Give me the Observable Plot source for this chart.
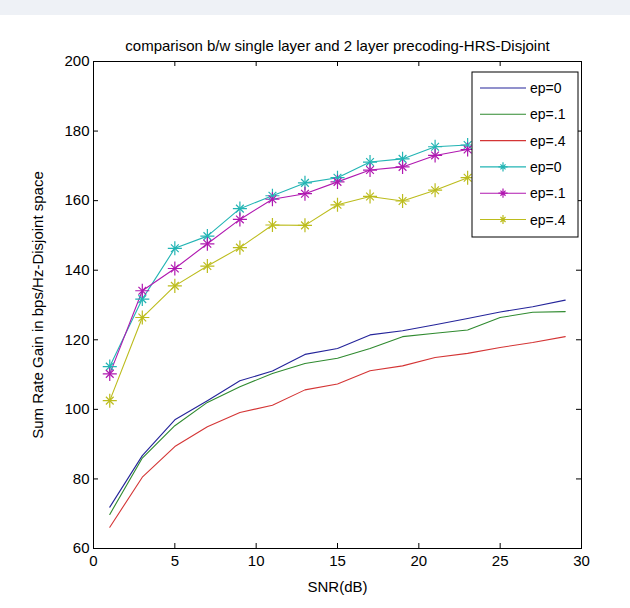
<!DOCTYPE html>
<html>
<head>
<meta charset="utf-8">
<script src="https://cdn.jsdelivr.net/npm/d3@7"></script>
<script src="https://cdn.jsdelivr.net/npm/@observablehq/plot@0.6"></script>
<style>
  html, body { margin: 0; padding: 0; background: #ffffff; }
  #chart { width: 630px; height: 608px; }
</style>
</head>
<body>
<div id="chart"></div>
<script>
// ---- data ----
const snr = [1, 3, 5, 7, 9, 11, 13, 15, 17, 19, 21, 23, 25, 27, 29];
const snrStar = [1, 3, 5, 7, 9, 11, 13, 15, 17, 19, 21, 23];
const single_ep0  = [71.9, 86.7, 97.0, 102.5, 108.2, 111.0, 115.8, 117.5, 121.4, 122.6, 124.3, 126.1, 128.0, 129.5, 131.4];
const single_ep1  = [69.8, 86.0, 95.3, 102.0, 106.5, 110.3, 113.2, 114.7, 117.5, 120.9, 121.9, 122.8, 126.4, 127.9, 128.1];
const single_ep4  = [66.1, 80.5, 89.3, 95.0, 99.1, 101.2, 105.6, 107.3, 111.1, 112.5, 114.9, 116.1, 117.8, 119.2, 120.9];
const double_ep0  = [112.3, 131.7, 146.3, 149.8, 157.7, 161.4, 165.1, 166.6, 171.1, 172.0, 175.5, 176.0];
const double_ep1  = [110.2, 134.1, 140.5, 147.6, 154.6, 160.4, 162.0, 165.4, 168.8, 169.7, 173.0, 174.7];
const double_ep4  = [102.5, 126.4, 135.5, 141.2, 146.5, 153.0, 152.9, 158.8, 161.2, 159.9, 163.0, 166.6];
const legendLabels = ["ep=0", "ep=.1", "ep=.4", "ep=0", "ep=.1", "ep=.4"];
const xTicks = [0, 5, 10, 15, 20, 25, 30];
const yTicks = [60, 80, 100, 120, 140, 160, 180, 200];
const titleText = "comparison b/w single layer and 2 layer precoding-HRS-Disjoint";
const xLabel = "SNR(dB)";
const yLabel = "Sum Rate Gain in bps/Hz-Disjoint space";

// ---- styles ----
const colors = ["#24249a", "#2f8a2f", "#d43535", "#22b4b4", "#b018b0", "#bcbc1c"];
const font = "'Liberation Sans', Arial, Helvetica, sans-serif";

const seriesDefs = [
  {x: snr, y: single_ep0, star: false},
  {x: snr, y: single_ep1, star: false},
  {x: snr, y: single_ep4, star: false},
  {x: snrStar, y: double_ep0, star: true},
  {x: snrStar, y: double_ep1, star: true},
  {x: snrStar, y: double_ep4, star: true}
];
const rows = [];
seriesDefs.forEach((s, i) => s.x.forEach((x, j) => rows.push({series: i, x, y: s.y[j], star: s.star})));

const W = 630, H = 608;
const mL = 93, mR = 49, mT = 61, mB = 60;
const innerW = W - mL - mR, innerH = H - mT - mB;

const marks = [
  Plot.frame({stroke: "#000", strokeWidth: 1}),
  // inward tick marks on all four sides
  Plot.tickX(xTicks, {x: d => d, insetTop: innerH - 5, stroke: "#000"}),
  Plot.tickX(xTicks, {x: d => d, insetBottom: innerH - 5, stroke: "#000"}),
  Plot.tickY(yTicks, {y: d => d, insetRight: innerW - 5, stroke: "#000"}),
  Plot.tickY(yTicks, {y: d => d, insetLeft: innerW - 5, stroke: "#000"}),
  Plot.axisX({ticks: xTicks, tickSize: 0, tickPadding: 7, fontSize: 15, label: null, tickFormat: d => String(d)}),
  Plot.axisY({ticks: yTicks, tickSize: 0, tickPadding: 4, fontSize: 15, label: null, tickFormat: d => String(d)}),
  ...seriesDefs.map((s, i) =>
    Plot.line(rows.filter(d => d.series === i), {x: "x", y: "y", stroke: colors[i], strokeWidth: 1.1})
  ),
  ...[3, 4, 5].map(i => Plot.dot(rows.filter(d => d.series === i), {x: "x", y: "y", symbol: "plus", r: 4.6, stroke: colors[i], strokeWidth: 1.2})),
  ...[3, 4, 5].map(i => Plot.dot(rows.filter(d => d.series === i), {x: "x", y: "y", symbol: "times", r: 3.6, stroke: colors[i], strokeWidth: 1.2})),
  Plot.text([titleText], {frameAnchor: "top", dy: -21, fontSize: 15, fill: "#000"}),
  Plot.text([xLabel], {frameAnchor: "bottom", dy: 43, fontSize: 15, fill: "#000"}),
  Plot.text([yLabel], {frameAnchor: "left", dx: -55, rotate: -90, textAnchor: "middle", fontSize: 15, fill: "#000"})
];

const chart = Plot.plot({
  width: W, height: H,
  marginLeft: mL, marginRight: mR, marginTop: mT, marginBottom: mB,
  style: {fontFamily: font, fontSize: "15px", color: "#000", background: "white"},
  x: {domain: [0, 30]},
  y: {domain: [60, 200]},
  marks
});

// ---- page border band and legend ----
const svg = d3.select(chart);
svg.insert("rect", ":first-child").attr("x", 0).attr("y", 0).attr("width", W).attr("height", 15).attr("fill", "#eef1f6");
svg.insert("rect", ":first-child").attr("x", 0).attr("y", 0).attr("width", W).attr("height", H).attr("fill", "#ffffff");

const lg = svg.append("g");
const lx = 472, ly = 72, lw = 106, lh = 165;
lg.append("rect").attr("x", lx).attr("y", ly).attr("width", lw).attr("height", lh)
  .attr("fill", "#fff").attr("stroke", "#000").attr("stroke-width", 1);
legendLabels.forEach((lab, i) => {
  const yy = ly + 16 + i * 26.3;
  lg.append("line").attr("x1", lx + 8).attr("x2", lx + 54).attr("y1", yy).attr("y2", yy)
    .attr("stroke", colors[i]).attr("stroke-width", 1.1);
  if (seriesDefs[i].star) {
    const cx = lx + 31;
    const p = 4.6, t = 3.6 / Math.SQRT2;
    lg.append("path").attr("d", `M${cx - p},${yy}H${cx + p}M${cx},${yy - p}V${yy + p}M${cx - t},${yy - t}L${cx + t},${yy + t}M${cx - t},${yy + t}L${cx + t},${yy - t}`)
      .attr("stroke", colors[i]).attr("stroke-width", 1.2).attr("fill", "none");
  }
  lg.append("text").attr("x", lx + 58).attr("y", yy).attr("dy", "0.36em")
    .attr("text-anchor", "start")
    .attr("font-family", font).attr("font-size", 14).attr("fill", "#000").text(lab);
});

document.getElementById("chart").appendChild(chart);
</script>
</body>
</html>
